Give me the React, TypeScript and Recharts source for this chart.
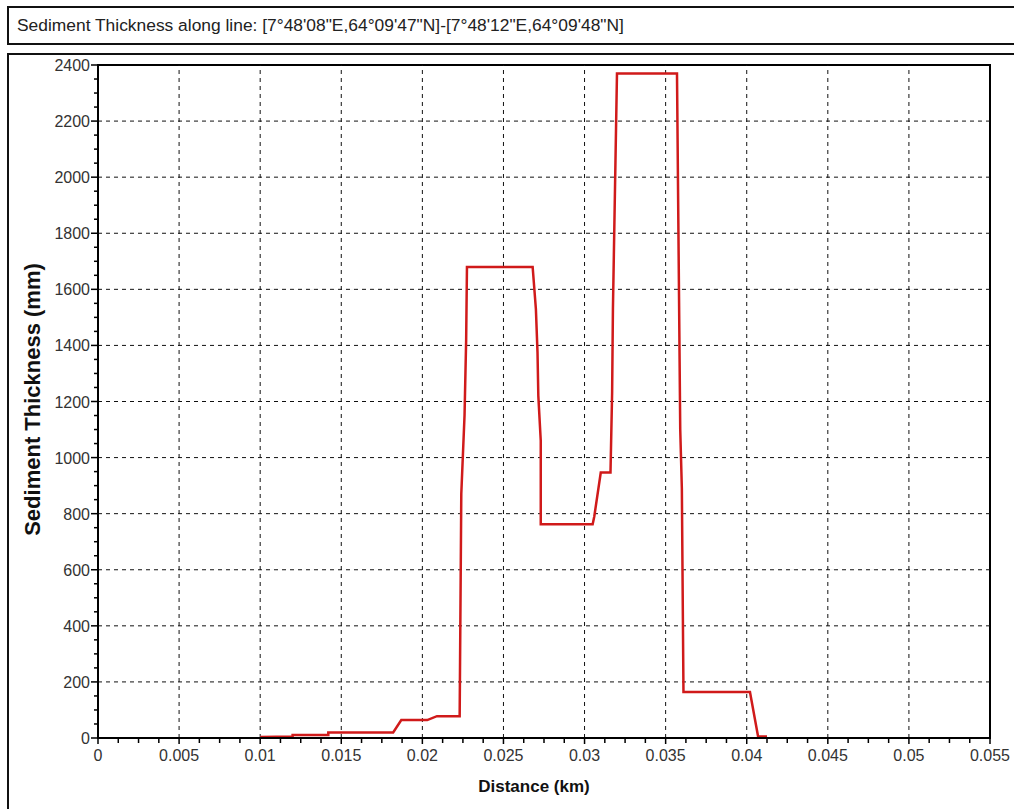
import { LineChart, Line, XAxis, YAxis, ReferenceLine, ReferenceArea } from 'recharts'

// distance along the profile line (km) and sediment thickness (mm)
const distanceKm = [
  0.01, 0.012, 0.012, 0.0142, 0.0142, 0.0182, 0.0187, 0.0203, 0.0209, 0.0223,
  0.0224, 0.0226, 0.0227, 0.02275, 0.0268, 0.027, 0.0271, 0.02715, 0.0273, 0.0273,
  0.0305, 0.0306, 0.031, 0.0316, 0.0317, 0.03175, 0.032, 0.0357, 0.0359, 0.036,
  0.0361, 0.0402, 0.0407, 0.04125,
]
const thicknessMm = [
  4, 5, 11, 11, 20, 20, 64, 64, 78, 78,
  870, 1150, 1420, 1680, 1680, 1530, 1375, 1220, 1060, 762,
  762, 790, 947, 947, 1230, 1530, 2370, 2370, 1100, 890,
  164, 164, 5, 5,
]

const xMajorTicks = [0, 0.005, 0.01, 0.015, 0.02, 0.025, 0.03, 0.035, 0.04, 0.045, 0.05, 0.055]
const xTickLabels = ['0', '0.005', '0.01', '0.015', '0.02', '0.025', '0.03', '0.035', '0.04', '0.045', '0.05', '0.055']
const yMajorTicks = [0, 200, 400, 600, 800, 1000, 1200, 1400, 1600, 1800, 2000, 2200, 2400]

const chartTitle = 'Sediment Thickness along line: [7°48\'08"E,64°09\'47"N]-[7°48\'12"E,64°09\'48"N]'

const data = distanceKm.map((d, i) => ({ d, t: thicknessMm[i] }))

// 3 minor ticks between each pair of major ticks
function withMinor(majors: number[]) {
  const out: number[] = []
  majors.forEach((m, i) => {
    out.push(m)
    const next = majors[i + 1]
    if (next !== undefined) {
      for (let k = 1; k < 4; k++) out.push(m + ((next - m) * k) / 4)
    }
  })
  return out
}

const xTicks = withMinor(xMajorTicks)
const yTicks = withMinor(yMajorTicks)

const font = 'Arial, "Liberation Sans", sans-serif'

function XTick(props: any) {
  const { x, y, index } = props
  const major = index % 4 === 0
  return (
    <g>
      <line x1={x} y1={y} x2={x} y2={y + (major ? 6 : 5)} stroke="#000" strokeWidth={1.5} />
      {major && (
        <text x={x} y={y + 23} textAnchor="middle" fontSize={16} fontFamily={font} fill="#333">
          {xTickLabels[index / 4]}
        </text>
      )}
    </g>
  )
}

function YTick(props: any) {
  const { x, y, index } = props
  const major = index % 4 === 0
  return (
    <g>
      <line x1={x} y1={y} x2={x - (major ? 7 : 4)} y2={y} stroke="#000" strokeWidth={1.5} />
      {major && (
        <text x={x - 8} y={y + 6} textAnchor="end" fontSize={16} fontFamily={font} fill="#333">
          {yMajorTicks[index / 4]}
        </text>
      )}
    </g>
  )
}

export default function App() {
  return (
    <div style={{ position: 'absolute', left: 0, top: 0, width: 1014, height: 809, overflow: 'hidden', background: '#fff' }}>
      <div
        style={{
          position: 'absolute', left: 7, top: 6, width: 1040, height: 39, boxSizing: 'border-box',
          border: '2px solid #111', fontFamily: font, fontSize: 17.4, color: '#222',
          lineHeight: '35px', paddingLeft: 8, whiteSpace: 'nowrap',
        }}
      >
        {chartTitle}
      </div>
      <div
        style={{
          position: 'absolute', left: 7, top: 53, width: 1040, height: 800, boxSizing: 'border-box',
          border: '2px solid #111',
        }}
      />
      <div style={{ position: 'absolute', left: 0, top: 0 }}>
        <LineChart width={1014} height={809} data={data} margin={{ top: 65, right: 24, bottom: 0, left: 8 }}>
          <XAxis
            dataKey="d"
            type="number"
            domain={[0, 0.055]}
            ticks={xTicks}
            interval={0}
            height={71}
            tickSize={0}
            tickMargin={0}
            tickLine={false}
            tick={<XTick />}
            axisLine={{ stroke: '#000', strokeWidth: 2 }}
            label={(p: any) => {
              const vb = p.viewBox
              return (
                <text x={vb.x + vb.width / 2 - 10} y={vb.y + 54} textAnchor="middle" fontSize={17} fontWeight="bold" fontFamily={font} fill="#111">
                  Distance (km)
                </text>
              )
            }}
          />
          <YAxis
            type="number"
            domain={[0, 2400]}
            ticks={yTicks}
            interval={0}
            width={90}
            tickSize={0}
            tickMargin={0}
            tickLine={false}
            tick={<YTick />}
            axisLine={{ stroke: '#000', strokeWidth: 2 }}
            label={(p: any) => {
              const vb = p.viewBox
              const cx = vb.x + 32
              const cy = vb.y + vb.height / 2 - 2
              return (
                <text x={cx} y={cy} transform={`rotate(-90, ${cx}, ${cy})`} textAnchor="middle" fontSize={22} fontWeight="bold" fontFamily={font} fill="#111">
                  Sediment Thickness (mm)
                </text>
              )
            }}
          />
          {xMajorTicks.slice(1, -1).map((v) => (
            <ReferenceLine key={'x' + v} x={v} stroke="#111" strokeDasharray="4 4" />
          ))}
          {yMajorTicks.slice(1, -1).map((v) => (
            <ReferenceLine key={'y' + v} y={v} stroke="#111" strokeDasharray="4 4" />
          ))}
          <ReferenceArea x1={0} x2={0.055} y1={0} y2={2400} fill="none" stroke="#000" strokeWidth={2} ifOverflow="visible" />
          <Line
            type="linear"
            dataKey="t"
            stroke="#d01a1a"
            strokeWidth={2.5}
            dot={false}
            isAnimationActive={false}
          />
        </LineChart>
      </div>
    </div>
  )
}
